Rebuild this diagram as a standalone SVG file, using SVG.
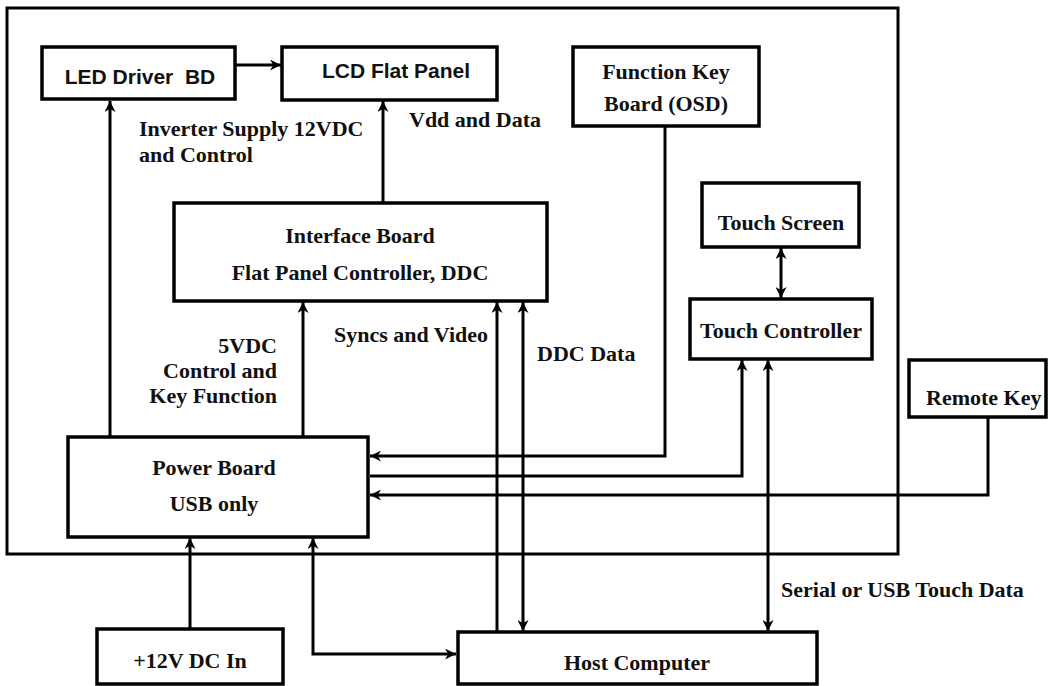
<svg xmlns="http://www.w3.org/2000/svg" width="1048" height="686" viewBox="0 0 1048 686">
<style>
.box{fill:#fff;stroke:#000;stroke-width:3.5}
.frame{fill:none;stroke:#000;stroke-width:3}
.c{fill:none;stroke:#000;stroke-width:3}
.a{font-family:"Liberation Sans",Arial,sans-serif;font-weight:bold;font-size:21px;fill:#111}
.t{font-family:"Liberation Serif","Times New Roman",serif;font-weight:bold;font-size:22px;fill:#111}
.m{text-anchor:middle}
.e{text-anchor:end}
</style>
<defs>
<marker id="ar" viewBox="0 0 10 10" refX="10" refY="5" markerWidth="11" markerHeight="11" markerUnits="userSpaceOnUse" orient="auto-start-reverse">
<path d="M0,0 L10,5 L0,10 L3,5 z" fill="#000"/>
</marker>
</defs>
<rect class="frame" x="7" y="8" width="891" height="546"/>
<g id="connectors">
<path class="c" d="M235,65 H281" marker-end="url(#ar)"/>
<path class="c" d="M110,437 V101" marker-end="url(#ar)"/>
<path class="c" d="M383,203 V101" marker-end="url(#ar)"/>
<path class="c" d="M303,437 V302" marker-end="url(#ar)"/>
<path class="c" d="M497,632 V302" marker-end="url(#ar)"/>
<path class="c" d="M523,302 V631" marker-start="url(#ar)" marker-end="url(#ar)"/>
<path class="c" d="M665,126 V456 H370" marker-end="url(#ar)"/>
<path class="c" d="M370,476 H742 V360" marker-end="url(#ar)"/>
<path class="c" d="M768,360 V631" marker-start="url(#ar)" marker-end="url(#ar)"/>
<path class="c" d="M988,417 V495 H370" marker-end="url(#ar)"/>
<path class="c" d="M781,248 V298" marker-start="url(#ar)" marker-end="url(#ar)"/>
<path class="c" d="M190,629 V538" marker-end="url(#ar)"/>
<path class="c" d="M313,538 V654 H456" marker-start="url(#ar)" marker-end="url(#ar)"/>
</g>
<g id="led-driver">
<rect class="box" x="42" y="47" width="193" height="52"/>
<text class="a m" x="140" y="84" xml:space="preserve">LED Driver  BD</text>
</g>
<g id="lcd-panel">
<rect class="box" x="282" y="47" width="215" height="53"/>
<text class="a m" x="396" y="78">LCD Flat Panel</text>
</g>
<g id="function-key">
<rect class="box" x="573" y="47" width="186" height="79"/>
<text class="t m" x="666" y="79">Function Key</text>
<text class="t m" x="666" y="111">Board (OSD)</text>
</g>
<g id="touch-screen">
<rect class="box" x="702" y="183" width="157" height="64"/>
<text class="t m" x="781" y="230">Touch Screen</text>
</g>
<g id="touch-controller">
<rect class="box" x="690" y="299" width="182" height="60"/>
<text class="t m" x="781" y="338">Touch Controller</text>
</g>
<g id="interface-board">
<rect class="box" x="174" y="203" width="373" height="98"/>
<text class="t m" x="360" y="243">Interface Board</text>
<text class="t m" x="360" y="280">Flat Panel Controller, DDC</text>
</g>
<g id="power-board">
<rect class="box" x="68" y="437" width="300" height="100"/>
<text class="t m" x="214" y="475">Power Board</text>
<text class="t m" x="214" y="511">USB only</text>
</g>
<g id="remote-key">
<rect class="box" x="909" y="360" width="137" height="57"/>
<text class="t" x="926" y="405">Remote Key</text>
</g>
<g id="dc-in">
<rect class="box" x="97" y="629" width="186" height="55"/>
<text class="t m" x="190" y="668">+12V DC In</text>
</g>
<g id="host-computer">
<rect class="box" x="458" y="632" width="359" height="52"/>
<text class="t m" x="637" y="670">Host Computer</text>
</g>
<g id="labels">
<text class="t" x="139" y="136">Inverter Supply 12VDC</text>
<text class="t" x="139" y="162">and Control</text>
<text class="t" x="409" y="127">Vdd and Data</text>
<text class="t e" x="277" y="353">5VDC</text>
<text class="t e" x="277" y="378">Control and</text>
<text class="t e" x="277" y="403">Key Function</text>
<text class="t e" x="488" y="342">Syncs and Video</text>
<text class="t" x="537" y="361">DDC Data</text>
<text class="t" x="781" y="597">Serial or USB Touch Data</text>
</g>
</svg>
